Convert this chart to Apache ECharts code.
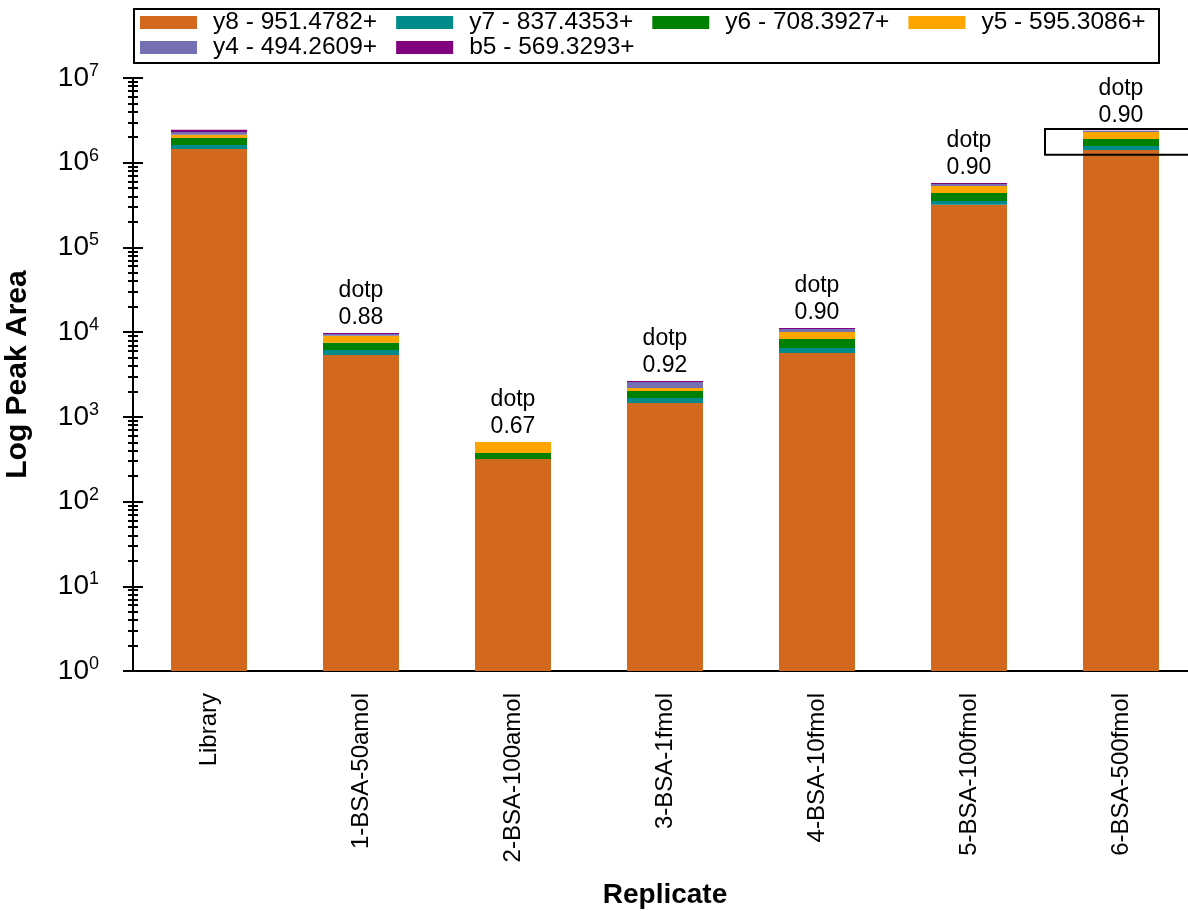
<!DOCTYPE html>
<html>
<head>
<meta charset="utf-8">
<script src="https://cdn.jsdelivr.net/npm/echarts@6/dist/echarts.min.js"></script>
<style>html,body{margin:0;padding:0;background:#fff}#chart{width:1188px;height:911px}</style>
</head>
<body>
<div id="chart"></div>
<script>
const categories = ['Library','1-BSA-50amol','2-BSA-100amol','3-BSA-1fmol','4-BSA-10fmol','5-BSA-100fmol','6-BSA-500fmol'];
const y8 = [1456000, 5380, 318, 1459, 5680, 318000, 1416000];
const y7 = [166000, 785, 0, 213, 825, 36000, 162000];
const y6 = [340000, 1350, 57, 351, 1813, 86000, 330000];
const y5 = [170000, 1580, 131, 171, 1730, 92000, 400000];
const y4 = [180000, 430, 0, 389, 860, 30000, 60000];
const b5 = [130000, 265, 0, 72, 300, 16000, 10000];
const dotp = [null, 0.88, 0.67, 0.92, 0.90, 0.90, 0.90];
const seriesNames = ['y8 - 951.4782+','y7 - 837.4353+','y6 - 708.3927+','y5 - 595.3086+','y4 - 494.2609+','b5 - 569.3293+'];
const seriesColors = ['#D2691E','#008B8B','#008000','#FFA500','#7570B3','#800080'];
const majorTicks = [1,10,100,1000,10000,100000,1000000,10000000];
const highlightCategory = '6-BSA-500fmol';
const highlightRange = [1240000, 2500000];

const minorTicks = [];
for (let k = 0; k < 7; k++) for (let m = 2; m <= 9; m++) minorTicks.push(m * Math.pow(10, k));

const FONT = 'Liberation Sans';
const seriesData = [y8, y7, y6, y5, y4, b5];

const series = seriesData.map((d, i) => ({
  name: seriesNames[i],
  type: 'bar',
  stack: 'total',
  barWidth: '50%',
  data: d,
  itemStyle: { color: seriesColors[i] },
  label: i === seriesData.length - 1 ? {
    show: true, position: 'top', distance: 2,
    fontFamily: FONT, fontSize: 23, lineHeight: 27, color: '#000',
    formatter: p => dotp[p.dataIndex] == null ? '' : 'dotp\n' + dotp[p.dataIndex].toFixed(2)
  } : { show: false },
  animation: false
}));

series.push({
  type: 'custom',
  name: 'highlight',
  data: [[highlightCategory, highlightRange[0], highlightRange[1]]],
  z: 10,
  renderItem: (params, api) => {
    const c0 = api.coord([api.value(0), api.value(1)]);
    const c1 = api.coord([api.value(0), api.value(2)]);
    const w = api.size([1, 1])[0];
    return { type: 'rect', shape: { x: c0[0] - w / 2, y: c1[1], width: w, height: c0[1] - c1[1] },
      style: { fill: 'none', stroke: '#000', lineWidth: 2 } };
  },
  animation: false
});

const baseY = { type: 'log', logBase: 10, min: 1, max: 10000000, position: 'left', splitLine: { show: false } };

const legendCommon = {
  left: 140,
  padding: 0,
  itemGap: 19,
  itemWidth: 57, itemHeight: 13,
  icon: 'rect',
  orient: 'horizontal',
  textStyle: { fontFamily: FONT, fontSize: 24.5, color: '#000', width: 170, padding: [0, 0, 0, 11] }
};

const chart = echarts.init(document.getElementById('chart'));
chart.setOption({
  animation: false,
  textStyle: { fontFamily: FONT },
  legend: [
    Object.assign({}, legendCommon, { data: seriesNames.slice(0, 4), top: 10 }),
    Object.assign({}, legendCommon, { data: seriesNames.slice(4), top: 35 })
  ],
  graphic: [{
    type: 'rect', silent: true,
    shape: { x: 134, y: 9, width: 1025, height: 54 },
    style: { fill: 'none', stroke: '#000', lineWidth: 2 }
  }],
  grid: { left: 133, right: -9, top: 78, bottom: 240, outerBoundsMode: 'none', containLabel: false },
  xAxis: {
    type: 'category', data: categories,
    axisLine: { lineStyle: { color: '#000', width: 2 } },
    axisTick: { inside: true, length: 10, alignWithLabel: true, lineStyle: { color: '#000', width: 2 } },
    axisLabel: { rotate: 90, margin: 22, fontFamily: FONT, fontSize: 24, color: '#000', interval: 0 },
    name: 'Replicate', nameLocation: 'middle', nameGap: 210,
    nameTextStyle: { fontFamily: FONT, fontSize: 28, fontWeight: 'bold', color: '#000' }
  },
  yAxis: [
    Object.assign({}, baseY, {
      axisLine: { show: true, lineStyle: { color: '#000', width: 2 } },
      axisTick: { show: true, inside: false, length: 10, customValues: majorTicks, lineStyle: { color: '#000', width: 2 } },
      axisLabel: {
        customValues: majorTicks, margin: 34, color: '#000',
        formatter: v => '{b|10}{s|' + Math.round(Math.log10(v)) + '}',
        rich: {
          b: { fontFamily: FONT, fontSize: 28, color: '#000', lineHeight: 32 },
          s: { fontFamily: FONT, fontSize: 18, color: '#000', verticalAlign: 'top', lineHeight: 32 }
        }
      },
      name: 'Log Peak Area', nameLocation: 'middle', nameGap: 100,
      nameTextStyle: { fontFamily: FONT, fontSize: 30, fontWeight: 'bold', color: '#000' }
    }),
    Object.assign({}, baseY, {
      axisLine: { show: false },
      axisTick: { show: true, inside: true, length: 10, customValues: majorTicks, lineStyle: { color: '#000', width: 2 } },
      axisLabel: { show: false }
    }),
    Object.assign({}, baseY, {
      axisLine: { show: false },
      axisTick: { show: true, inside: false, length: 5, customValues: minorTicks, lineStyle: { color: '#000', width: 2 } },
      axisLabel: { show: false }
    }),
    Object.assign({}, baseY, {
      axisLine: { show: false },
      axisTick: { show: true, inside: true, length: 5, customValues: minorTicks, lineStyle: { color: '#000', width: 2 } },
      axisLabel: { show: false }
    })
  ],
  series: series
});
</script>
</body>
</html>
